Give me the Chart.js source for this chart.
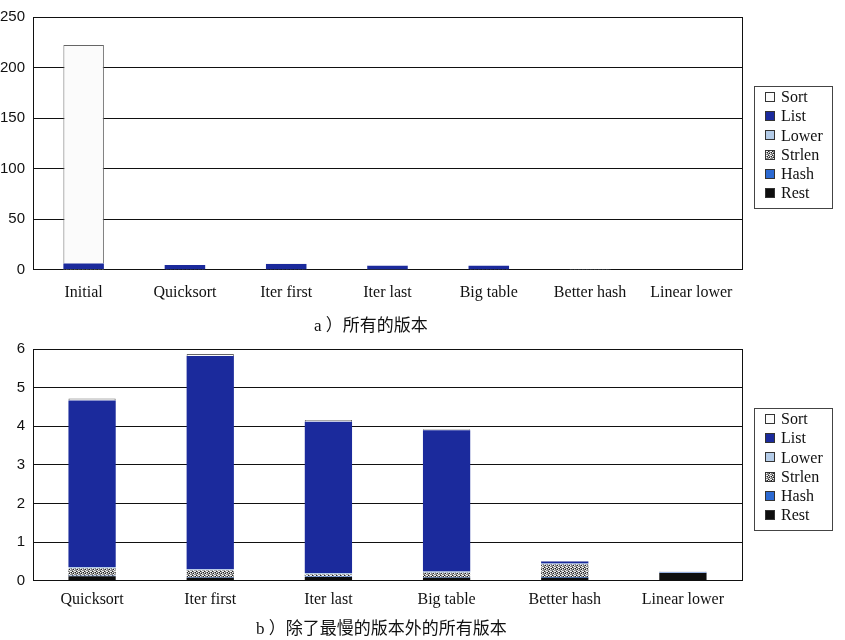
<!DOCTYPE html>
<html>
<head>
<meta charset="utf-8">
<script src="https://cdn.jsdelivr.net/npm/chart.js@4.4.0/dist/chart.umd.min.js"></script>
<style>
  body { margin: 0; background: #fff; }
  .box { position: absolute; left: 0; width: 845px; }
  .cap { position: absolute; font: 17px "Liberation Serif", "Noto Sans CJK SC", serif; color: #111; white-space: nowrap; }
</style>
</head>
<body>
<div class="box" style="top:0;height:315px"><canvas id="chartA"></canvas></div>
<div class="cap" style="left:314px;top:311px">a ）所有的版本</div>
<div class="box" style="top:332px;height:286px"><canvas id="chartB"></canvas></div>
<div class="cap" style="left:256px;top:614px">b ）除了最慢的版本外的所有版本</div>
<script>
// versions of the word-frequency program, time in seconds
const versions = ['Initial', 'Quicksort', 'Iter first', 'Iter last', 'Big table', 'Better hash', 'Linear lower'];
const sortT   = [216.0, 0.05, 0.05, 0.04, 0.02, 0.01, 0.01];
const listT   = [5.6,   4.31, 5.52, 3.92, 3.66, 0.05, 0.01];
const lowerT  = [0.3,   0.04, 0.03, 0.03, 0.03, 0.03, 0.01];
const strlenT = [0.3,   0.19, 0.18, 0.06, 0.12, 0.32, 0.00];
const hashT   = [0.05,  0.01, 0.01, 0.01, 0.01, 0.02, 0.01];
const restT   = [0.1,   0.12, 0.08, 0.10, 0.08, 0.08, 0.20];
const ticksA = [0, 50, 100, 150, 200, 250];
const ticksB = [0, 1, 2, 3, 4, 5, 6];

// speckled fill for strlen
function speckle() {
  const c = document.createElement('canvas');
  c.width = 4; c.height = 4;
  const g = c.getContext('2d');
  g.fillStyle = '#8a8a8a'; g.fillRect(0, 0, 4, 4);
  g.fillStyle = '#f2f2f2';
  [[0,0],[2,1],[1,2],[3,3],[2,3]].forEach(p => g.fillRect(p[0], p[1], 1, 1));
  g.fillStyle = '#222';
  [[3,0],[0,3],[1,1]].forEach(p => g.fillRect(p[0], p[1], 1, 1));
  return g.createPattern(c, 'repeat');
}
const strlenFill = speckle();

// right edge of the plot + boxed legend beside it
const framePlugin = {
  id: 'frame',
  afterDraw(chart) {
    const ctx = chart.ctx, a = chart.chartArea;
    ctx.save();
    ctx.strokeStyle = '#111';
    ctx.lineWidth = 1;
    ctx.beginPath();
    ctx.moveTo(Math.round(a.right) + 0.5, a.top);
    ctx.lineTo(Math.round(a.right) + 0.5, a.bottom);
    ctx.stroke();

    const x0 = Math.round(a.right) + 12;
    const y0 = Math.round((a.top + a.bottom) / 2 - 61 + 4);
    ctx.strokeStyle = '#444';
    ctx.strokeRect(x0 + 0.5, y0 + 0.5, 78, 122);
    const items = chart.data.datasets.slice().reverse();
    ctx.font = '16px "Liberation Serif"';
    ctx.textBaseline = 'middle';
    items.forEach((d, i) => {
      const cy = y0 + 11 + i * 19.2;
      ctx.fillStyle = d.backgroundColor;
      ctx.fillRect(x0 + 11, Math.round(cy - 5), 10, 10);
      ctx.strokeStyle = '#333';
      ctx.strokeRect(x0 + 11.5, Math.round(cy - 5) + 0.5, 9, 9);
      ctx.fillStyle = '#111';
      ctx.fillText(d.label, x0 + 27, cy + 1);
    });
    ctx.restore();
  }
};

function makeChart(id, from, ticks, padTop, labelPad) {
  const pick = arr => arr.slice(from);
  const ds = (label, data, color, border) => ({
    label, data: pick(data), backgroundColor: color,
    borderColor: border || color, borderWidth: border ? 1 : 0,
    barPercentage: 0.4, categoryPercentage: 1.0
  });
  return new Chart(document.getElementById(id), {
    type: 'bar',
    data: {
      labels: pick(versions),
      datasets: [
        ds('Rest', restT, '#0e0e0e'),
        ds('Hash', hashT, '#2c6ad2'),
        ds('Strlen', strlenT, strlenFill),
        ds('Lower', lowerT, '#b4cce8'),
        ds('List', listT, '#1b2a9c'),
        ds('Sort', sortT, '#fbfbfb', '#666')
      ]
    },
    options: {
      responsive: true,
      maintainAspectRatio: false,
      animation: false,
      layout: { padding: { top: padTop, right: 103, left: 0, bottom: 0 } },
      plugins: {
        tooltip: { enabled: false },
        legend: { display: false }
      },
      scales: {
        x: {
          stacked: true,
          grid: { display: false, drawTicks: false },
          border: { color: '#111' },
          ticks: { color: '#111', padding: labelPad, font: { family: 'Liberation Serif', size: 16 } }
        },
        y: {
          stacked: true,
          min: ticks[0], max: ticks[ticks.length - 1],
          afterBuildTicks: s => { s.ticks = ticks.map(v => ({ value: v })); },
          afterFit: s => { s.width = 33; },
          grid: { color: '#111', drawTicks: false },
          border: { color: '#111' },
          ticks: { color: '#111', padding: 8, font: { family: 'Liberation Sans', size: 15 } }
        }
      }
    },
    plugins: [framePlugin]
  });
}

makeChart('chartA', 0, ticksA, 7, 13);
makeChart('chartB', 1, ticksB, 6, 9);
</script>
</body>
</html>
